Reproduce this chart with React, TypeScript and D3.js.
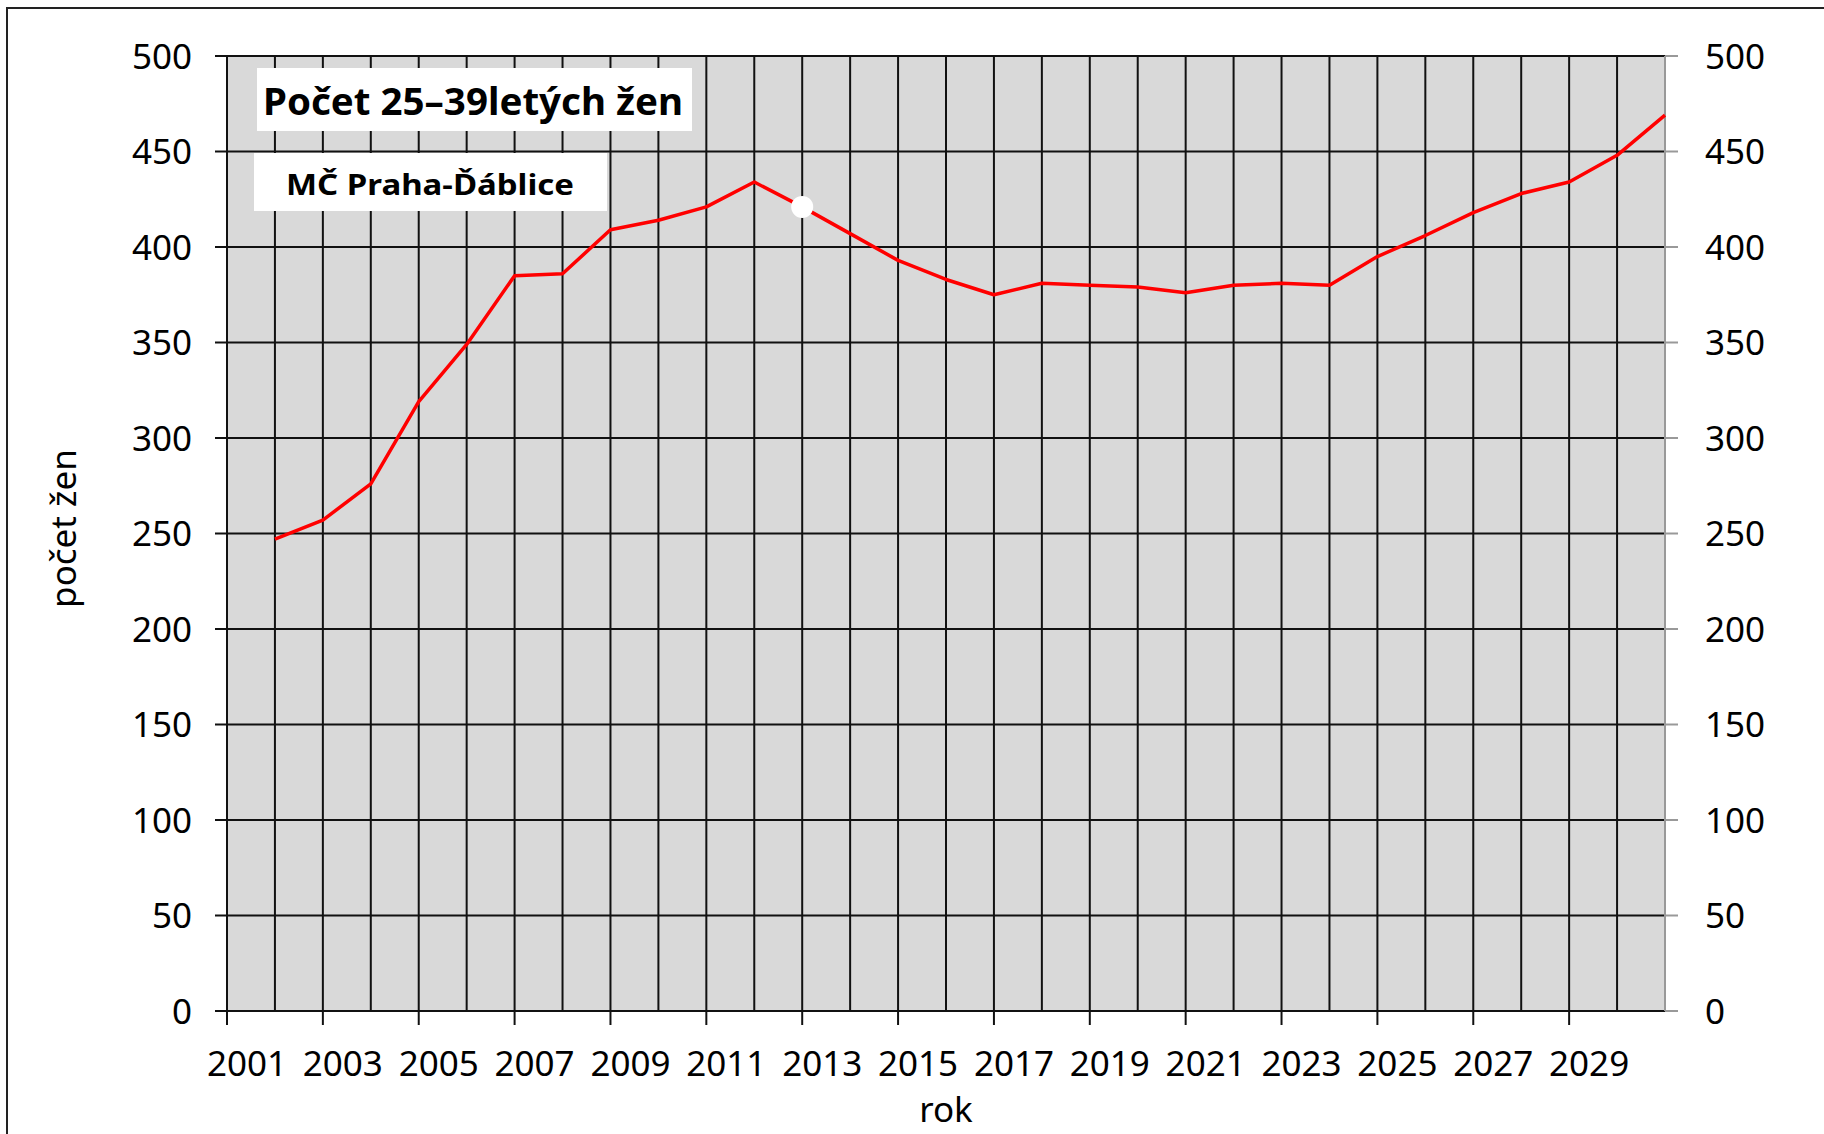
import React, { useEffect } from "react";
import * as d3 from "d3";

// roky a počty 25–39letých žen
const years = [
  2002, 2003, 2004, 2005, 2006, 2007, 2008, 2009, 2010, 2011,
  2012, 2013, 2014, 2015, 2016, 2017, 2018, 2019, 2020, 2021,
  2022, 2023, 2024, 2025, 2026, 2027, 2028, 2029, 2030, 2031,
];
const counts = [
  247, 257, 276, 319, 349, 385, 386, 409, 414, 421,
  434, 421, 407, 393, 383, 375, 381, 380, 379, 376,
  380, 381, 380, 395, 406, 418, 428, 434, 448, 469,
];
const gridYears = [
  2002, 2003, 2004, 2005, 2006, 2007, 2008, 2009, 2010, 2011,
  2012, 2013, 2014, 2015, 2016, 2017, 2018, 2019, 2020, 2021,
  2022, 2023, 2024, 2025, 2026, 2027, 2028, 2029, 2030,
];
const xLabels = [
  2001, 2003, 2005, 2007, 2009, 2011, 2013, 2015, 2017, 2019,
  2021, 2023, 2025, 2027, 2029,
];
const yTicks = [0, 50, 100, 150, 200, 250, 300, 350, 400, 450, 500];
const highlightYear = 2013;

const W = 1824;
const H = 1134;
const FONT = "'Noto Sans', 'Open Sans', sans-serif";

const App: React.FC = () => {
  useEffect(() => {
    document.body.style.margin = "0";
  }, []);

  const margin = { top: 56, right: W - 1665, bottom: H - 1011, left: 227 };
  const x = d3
    .scaleLinear()
    .domain([2001, 2031])
    .range([margin.left, W - margin.right]);
  const y = d3
    .scaleLinear()
    .domain([0, 500])
    .range([H - margin.bottom, margin.top]);

  const data = years.map((yr, i) => ({ year: yr, count: counts[i] }));
  const line = d3
    .line<{ year: number; count: number }>()
    .x((d) => x(d.year))
    .y((d) => y(d.count));

  const x0 = x(2001);
  const x1 = x(2031);
  const yb = y(0);
  const hl = data.find((d) => d.year === highlightYear)!;

  return (
    <svg width={W} height={H} style={{ display: "block" }} fontFamily={FONT}>
      <rect width={W} height={H} fill="#fff" />
      {/* rámeček */}
      <path d={`M7,${H} V8 H${W}`} fill="none" stroke="#222" strokeWidth={2} />

      {/* plocha grafu */}
      <rect x={x0} y={y(500)} width={x1 - x0} height={yb - y(500)} fill="#d9d9d9" />

      {/* svislá mřížka */}
      {gridYears.map((yr) => (
        <line key={yr} x1={x(yr)} x2={x(yr)} y1={y(500)} y2={yb} stroke="#111" strokeWidth={2} />
      ))}
      {/* vodorovná mřížka + značky */}
      {yTicks.map((t) => (
        <g key={t}>
          <line x1={x0 - 12} x2={x1} y1={y(t)} y2={y(t)} stroke="#111" strokeWidth={2} />
          <line x1={x1} x2={x1 + 13} y1={y(t)} y2={y(t)} stroke="#999" strokeWidth={2} />
          <text x={192} y={y(t) + 12.5} textAnchor="end" fontSize={35} fill="#000">
            {t}
          </text>
          <text x={1705} y={y(t) + 12.5} textAnchor="start" fontSize={35} fill="#000">
            {t}
          </text>
        </g>
      ))}
      {/* osy */}
      <line x1={x0} x2={x0} y1={y(500)} y2={yb} stroke="#111" strokeWidth={2} />
      <line x1={x1} x2={x1} y1={y(500)} y2={yb} stroke="#999" strokeWidth={2} />

      {/* osa x */}
      {xLabels.map((yr) => (
        <g key={yr}>
          <line x1={x(yr)} x2={x(yr)} y1={yb} y2={yb + 14} stroke="#111" strokeWidth={2} />
          <text x={x(yr) + 20} y={1076} textAnchor="middle" fontSize={35} fill="#000">
            {yr}
          </text>
        </g>
      ))}

      {/* popisky os */}
      <text x={(x0 + x1) / 2} y={1122} textAnchor="middle" fontSize={35} fill="#000">
        rok
      </text>
      <text
        transform={`translate(76,${(y(500) + yb) / 2 - 5}) rotate(-90)`}
        textAnchor="middle"
        fontSize={35}
        fill="#000"
      >
        počet žen
      </text>

      {/* titulky */}
      <rect x={257} y={68} width={435} height={63} fill="#fff" />
      <text x={263} y={115} fontSize={37} fontWeight="bold" fill="#000" textLength={420} lengthAdjust="spacingAndGlyphs">
        Počet 25–39letých žen
      </text>
      <rect x={254} y={153} width={353} height={58} fill="#fff" />
      <text x={286} y={195} fontSize={29} fontWeight="bold" fill="#000" textLength={288} lengthAdjust="spacingAndGlyphs">
        MČ Praha-Ďáblice
      </text>

      {/* data */}
      <path d={line(data) || ""} fill="none" stroke="#ff0000" strokeWidth={3.5} strokeLinejoin="round" />
      <circle cx={x(hl.year)} cy={y(hl.count)} r={11} fill="#fff" />
    </svg>
  );
};

export default App;
